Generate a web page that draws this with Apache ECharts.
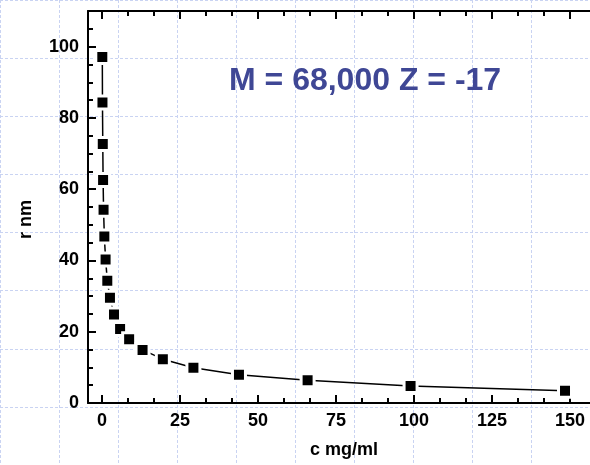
<!DOCTYPE html>
<html>
<head>
<meta charset="utf-8">
<script src="https://cdn.jsdelivr.net/npm/echarts@6/dist/echarts.min.js"></script>
<style>
  html, body { margin: 0; padding: 0; background: #fff; }
  #chart { width: 590px; height: 465px; }
</style>
</head>
<body>
<div id="chart"></div>
<script>
// concentration c (mg/ml) and radius r (nm)
const conc = [0.1, 0.15, 0.25, 0.35, 0.5, 0.75, 1.15, 1.7, 2.55, 3.85, 5.8, 8.7, 13.0, 19.5, 29.3, 43.9, 65.9, 98.9, 148.4]
const radius = [97.1, 84.3, 72.7, 62.6, 54.2, 46.7, 40.3, 34.3, 29.5, 24.8, 20.8, 17.9, 14.9, 12.3, 9.9, 7.9, 6.4, 4.8, 3.45]
const xTicks = [0, 25, 50, 75, 100, 125, 150]
const yTicks = [0, 20, 40, 60, 80, 100]
const note = 'M = 68,000 Z = -17'

const font = "'Liberation Sans', Arial, sans-serif"
const pts = conc.map((c, i) => [c, radius[i]])

const chart = echarts.init(document.getElementById('chart'))

const frame = {left: 88, right: 0, top: 11, bottom: 62}
const area = {left: 102, right: 20, top: 11, bottom: 62}
const paperLine = {show: true, lineStyle: {color: '#c9d3f2', width: 1, type: [3, 2]}}
const labelFont = {color: '#000', fontFamily: font, fontWeight: 'bold', fontSize: 18}

function ticks(len) {
    return {show: true, inside: true, length: len, lineStyle: {color: '#000', width: 2}}
}
function minor() {
    return {show: true, splitNumber: 3, length: 5, lineStyle: {color: '#000', width: 2}}
}

// axis that draws nothing (onZero off so ticks stay on their own side)
function blank(gridIndex, min, max) {
    return {gridIndex, type: 'value', min, max,
        axisLine: {show: false, onZero: false}, axisTick: {show: false},
        axisLabel: {show: false}, splitLine: {show: false}}
}
function solidLine() {
    return {show: true, onZero: false, lineStyle: {color: '#000', width: 2}}
}

const option = {
    backgroundColor: '#fff',
    animation: false,
    grid: [
        Object.assign({}, frame),   // 0: frame lines + y labels
        Object.assign({}, area),    // 1: data, x ticks bottom
        {left: -28, top: -21, width: 640, height: 512}, // 2: grid paper
        Object.assign({}, area),    // 3: x ticks top
        Object.assign({}, frame)    // 4: y minor ticks
    ],
    xAxis: [
        Object.assign(blank(0, 0, 1), {position: 'bottom', axisLine: solidLine()}),
        Object.assign(blank(0, 0, 1), {position: 'top', axisLine: solidLine()}),
        Object.assign(blank(1, xTicks[0], xTicks[xTicks.length - 1]), {
            interval: 25, position: 'bottom',
            axisTick: ticks(8),
            minorTick: minor(),
            axisLabel: Object.assign({show: true, margin: 9}, labelFont),
            name: 'c mg/ml', nameLocation: 'middle', nameGap: 38,
            nameTextStyle: Object.assign({padding: [0, 0, 0, 16]}, labelFont)}),
        Object.assign(blank(2, 0, 640), {interval: 64, splitLine: paperLine}),
        Object.assign(blank(3, xTicks[0], xTicks[xTicks.length - 1]), {
            interval: 25, position: 'top',
            axisTick: ticks(8),
            minorTick: minor()}),
        blank(4, 0, 1)
    ],
    yAxis: [
        Object.assign(blank(0, 0, 110), {interval: 20, position: 'left',
            axisLine: solidLine(),
            axisTick: ticks(8),
            axisLabel: Object.assign({show: true, margin: 9, showMaxLabel: false,
                formatter: v => yTicks.includes(v) ? String(v) : ''}, labelFont),
            name: 'r nm', nameLocation: 'middle', nameGap: 53, nameRotate: 90,
            nameTextStyle: Object.assign({padding: [0, 25, 0, 0]}, labelFont)}),
        blank(1, 0, 110),
        Object.assign(blank(2, 0, 512), {interval: 64, splitLine: paperLine}),
        blank(3, 0, 110),
        Object.assign(blank(4, 0, 110), {interval: 5, position: 'left', axisTick: ticks(5)})
    ],
    series: [
        {
            type: 'line',
            xAxisIndex: 2,
            yAxisIndex: 1,
            data: pts,
            symbol: 'rect',
            symbolSize: 13,
            showAllSymbol: true,
            lineStyle: {color: '#000', width: 1.5},
            itemStyle: {color: '#000', borderColor: '#fff', borderWidth: 3},
            z: 5
        }
    ],
    graphic: [
        {type: 'text', x: 229, y: 81, z: 10,
         style: {text: note, font: 'bold 32px ' + font, fill: '#3f4795', verticalAlign: 'middle'}}
    ]
}

chart.setOption(option)
</script>
</body>
</html>
